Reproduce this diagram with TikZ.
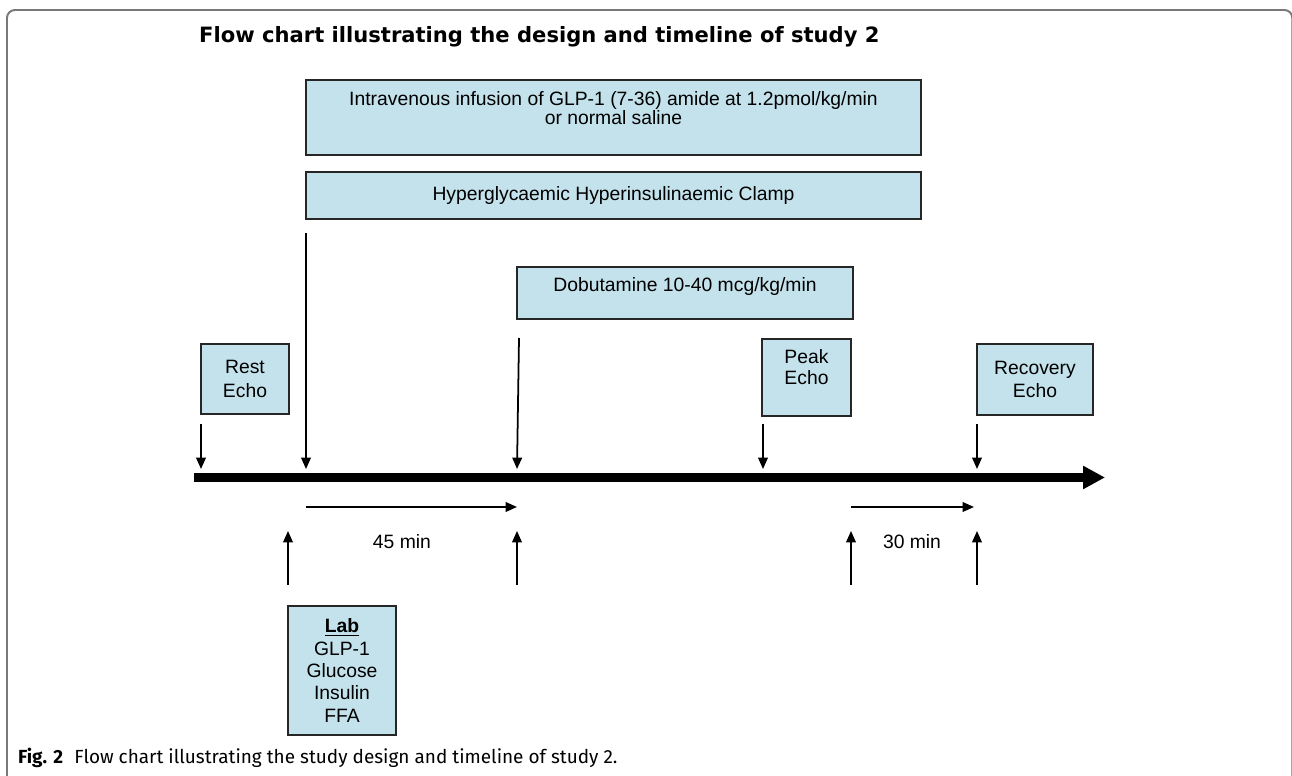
\documentclass[tikz,border=0pt]{standalone}
\usepackage{fontspec}
\setmainfont{Liberation Sans}
\newfontfamily\titlefont{DejaVu Sans}
\newfontfamily\capfont{Fira Sans}
\usetikzlibrary{arrows.meta}
\definecolor{boxfill}{RGB}{196,226,236}
\definecolor{framegray}{RGB}{120,120,120}
\tikzset{
  box/.style={rectangle, draw=black!85, line width=1.1pt, fill=boxfill, align=center, inner sep=0pt, font=\fontsize{11}{13.5}\selectfont},
  arr/.style={-{Triangle[length=6.5pt,width=5.5pt]}, line width=1pt},
  lbl/.style={font=\fontsize{11}{13}\selectfont}
}
\begin{document}
\begin{tikzpicture}[x=0.02cm, y=-0.02cm]
\useasboundingbox (0,0) rectangle (1292,776);
\clip (0,0) rectangle (1292,776);
\draw[framegray, line width=1.1pt, rounded corners=4.5pt] (7,800) -- (7,10) -- (1292.3,10) -- (1292.3,800);

\node[anchor=base west, font=\titlefont\bfseries\fontsize{12}{14}\selectfont] (title) at (193,43) {Flow chart illustrating the design and timeline of study 2};

\node[box, minimum width=12.3cm, minimum height=1.5cm, font=\fontsize{11}{11}\selectfont] (infusion) at (613.5,117.5) {Intravenous infusion of GLP-1 (7-36) amide at 1.2pmol/kg/min\\or normal saline\\\mbox{}};
\node[box, minimum width=12.3cm, minimum height=0.94cm] (clamp) at (613.5,195.5) {Hyperglycaemic Hyperinsulinaemic Clamp};
\node[box, minimum width=6.72cm, minimum height=1.04cm, font=\fontsize{11}{10.2}\selectfont] (dobut) at (685,293) {Dobutamine 10-40 mcg/kg/min\\\mbox{}};

\node[box, minimum width=1.76cm, minimum height=1.4cm] (rest) at (245,379) {Rest\\Echo};
\node[box, minimum width=1.78cm, minimum height=1.54cm, font=\fontsize{11}{12}\selectfont] (peak) at (806.5,377.5) {Peak\\Echo\\\mbox{}};
\node[box, minimum width=2.32cm, minimum height=1.42cm] (recov) at (1035,379.5) {Recovery\\Echo};
\node[box, minimum width=2.16cm, minimum height=2.58cm, font=\fontsize{11}{12.8}\selectfont] (lab) at (342,670.5) {\underline{\textbf{Lab}}\\GLP-1\\Glucose\\Insulin\\FFA};

% timeline
\coordinate (t0) at (194,477.5);
\coordinate (t1) at (1105,477.5);
\draw[line width=5pt, -{Triangle[length=12.5pt,width=12.5pt]}] (t0) -- (t1);

% arrows down onto the timeline
\foreach \xa/\ya/\xb [count=\i] in {201/424/201, 306/233/306, 519/338/517, 763/424/763, 977/424/977}
{
  \coordinate (dn\i) at (\xa,\ya);
  \coordinate (on\i) at (\xb,469);
  \draw[arr] (dn\i) -- (on\i);
}

% sampling arrows
\foreach \x [count=\i] in {288, 517, 851, 977}
{
  \coordinate (up\i) at (\x,585);
  \coordinate (tip\i) at (\x,531);
  \draw[arr] (up\i) -- (tip\i);
}

\coordinate (h1a) at (306,507);
\coordinate (h1b) at (517,507);
\coordinate (h2a) at (851,507);
\coordinate (h2b) at (974,507);
\draw[arr] (h1a) -- (h1b);
\draw[arr] (h2a) -- (h2b);

\node[lbl] (min45) at (402,542) {45 min};
\node[lbl] (min30) at (912,542) {30 min};

\node[anchor=base west, font=\capfont\fontsize{10.8}{12}\selectfont] (caption) at (12,764) {\textbf{Fig. 2}\hspace{0.6em}Flow chart illustrating the study design and timeline of study 2.};

\end{tikzpicture}
\end{document}
